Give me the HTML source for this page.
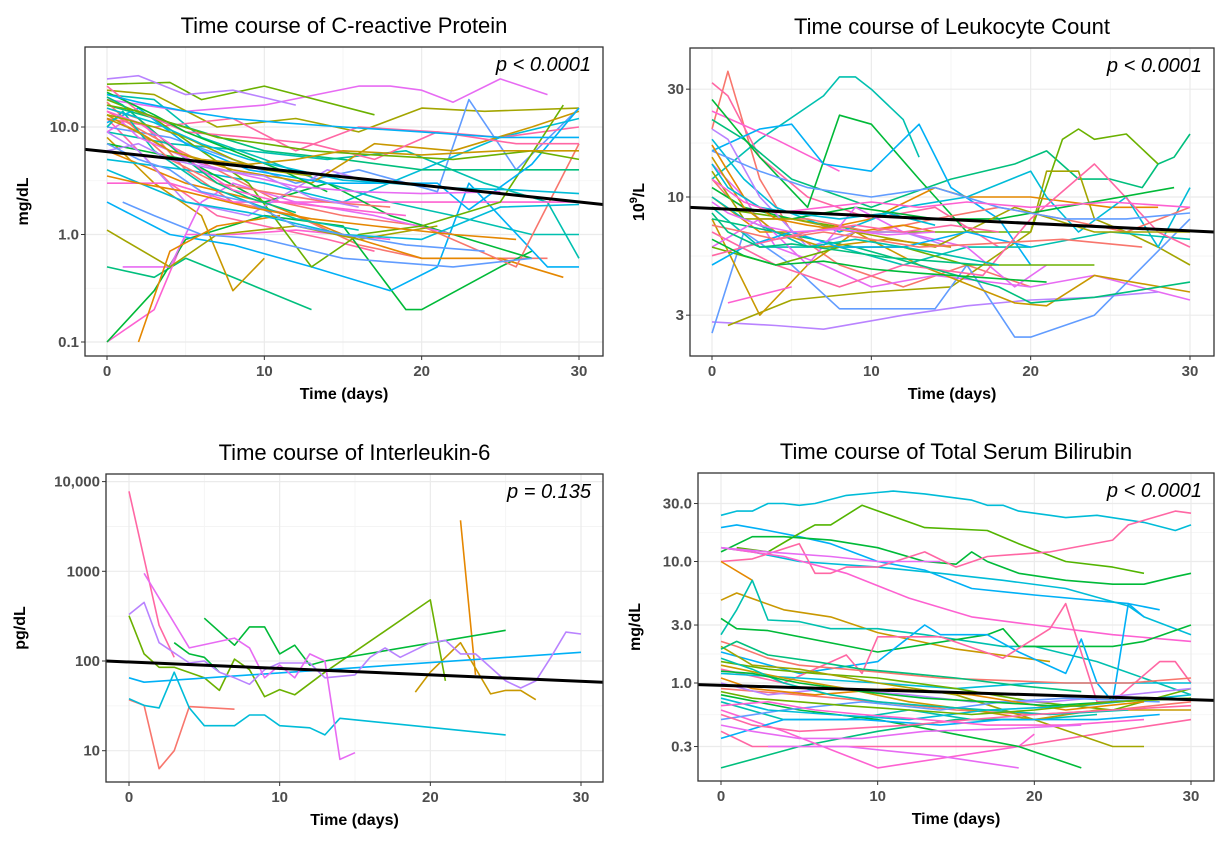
<!DOCTYPE html>
<html><head><meta charset="utf-8"><style>
html,body{margin:0;padding:0;background:#fff;}
svg{display:block;font-family:"Liberation Sans",Arial,sans-serif;}
</style></head><body>
<svg id="chart" width="1221" height="846" viewBox="0 0 1221 846" xmlns="http://www.w3.org/2000/svg"></svg>
<script>
const palette = ["#F8766D","#E58700","#C99800","#A3A500","#6BB100","#00BA38","#00BF7D","#00C0AF","#00BCD8","#00B0F6","#619CFF","#B983FF","#E76BF3","#FD61D1","#FF67A4"];

const xTicks = [0,10,20,30];
const xMinor = [5,15,25];

const crpTicks = [0.1,1,10];
const crpTickLabels = ["0.1","1.0","10.0"];
const crpTrend = [6.2,1.9];
const crpSeries = [
[[0,15],[2,12],[5,4],[8,2],[12,1.5],[16,0.8],[20,0.6],[25,0.6],[28,0.6]],
[[0,20],[3,18],[6,8],[10,5],[14,3],[18,2],[22,1.5],[27,1],[30,1]],
[[0,12],[2,6],[4,3],[7,1.5],[10,1.2],[14,0.9],[17,0.7]],
[[0,0.5],[3,0.4],[5,0.6],[8,0.4],[13,0.2]],
[[0,0.1],[3,0.2],[5,1],[8,1],[12,1.1],[18,0.9]],
[[0,0.1],[3,0.3],[5,0.9],[10,1.5],[15,1.2],[19,0.2],[20,0.2],[25,0.5],[27,0.7]],
[[0,18],[5,14],[10,16],[16,24],[18,24],[20,22],[22,17],[25,28],[28,20]],
[[0,25],[4,26],[6,18],[10,24],[17,13]],
[[0,28],[2,30],[5,20],[8,22],[12,16]],
[[0,22],[3,20],[7,10],[12,12],[16,9],[20,15],[24,14],[30,15]],
[[0,10],[4,8],[8,5],[12,3],[16,4],[21,2.5],[23,18],[26,4],[30,15]],
[[0,8],[3,3],[6,1.5],[8,0.3],[10,0.6]],
[[0,2],[4,1],[8,0.8],[13,0.5],[18,0.3],[21,0.5],[23,3],[28,0.5],[30,0.5]],
[[0,6],[5,3],[10,2],[15,1],[20,0.6],[25,0.6],[29,0.4]],
[[0,5],[5,4],[10,3],[15,2],[20,4],[25,8],[30,12]],
[[0,14],[3,8],[7,4],[11,2],[15,1.5],[20,1.2],[26,0.5],[30,7]],
[[0,9],[4,7],[9,6],[14,5],[19,6],[24,3],[28,2],[30,0.6]],
[[0,12],[3,10],[8,12],[12,6],[16,10],[21,9],[25,8],[30,10]],
[[0,16],[5,10],[10,6],[15,5],[20,4],[25,4],[30,4]],
[[0,3],[4,3],[8,2],[14,2],[20,2],[26,2],[30,2]],
[[0,7],[5,5],[10,2],[14,3],[18,1.5],[22,1],[27,0.6]],
[[1,0.5],[4,0.5],[6,2],[8,3],[12,2],[17,1.5],[22,1]],
[[0,18],[3,12],[6,6],[9,3],[13,0.5],[16,1],[20,1.2],[25,2],[29,16]],
[[0,9],[2,6],[5,2],[9,1.5],[14,4],[17,3]],
[[0,1.1],[4,0.5],[7,1],[12,1.2],[16,0.9],[21,1.2]],
[[1,2],[3,1.5],[6,1],[10,0.9],[15,0.6],[22,0.5],[27,0.6]],
[[0,13],[4,6],[8,4],[13,3],[17,7],[22,6],[27,10],[30,14]],
[[0,11],[2,15],[5,7],[9,4],[14,3],[21,3],[23,1.7],[27,4.5],[30,15]],
[[2,0.1],[4,0.7],[7,1.2],[11,1.5]],
[[0,4],[5,2],[9,1.6],[15,1],[20,0.9],[25,1.8],[30,1.9]],
[[0,17],[2,9],[4,5],[7,3],[10,2.5],[14,2],[18,1.8]],
[[0,10],[1,14],[3,6],[6,3],[9,2],[12,1.4],[16,1.1]],
[[0,24],[2,14],[5,9],[9,8],[13,7],[17,5],[21,9],[26,7],[30,7]],
[[0,19],[1,16],[3,9],[5,5],[7,3],[9,2.2],[12,1.6]],
[[0,14],[2,11],[4,7],[6,4],[8,2.6],[11,2],[14,1.8],[19,1.5]],
[[0,21],[1,18],[3,13],[5,9],[8,6],[11,4],[14,2.5]],
[[0,9],[1,11],[2,8],[4,6],[6,4.5],[9,3.5],[12,2.8],[16,2.5],[20,2.4],[25,2.5]],
[[0,16],[2,14],[4,11],[7,8],[10,7],[13,6],[17,5.5],[22,5],[27,6],[30,5]],
[[0,6],[2,7],[4,5],[7,4],[10,3.5],[13,2.2],[16,1.8]],
[[0,13],[1,12],[3,10],[5,8],[8,5],[10,4],[13,3.5]],
[[0,7],[2,5],[4,4],[6,2.5],[9,2],[12,1.2],[15,1],[19,0.8],[24,0.7]],
[[0,12],[2,9],[4,6],[6,5],[9,4.5],[12,5],[15,6],[20,5.5],[25,6],[30,6]],
[[0,20],[2,17],[5,14],[8,12],[11,11],[15,10],[20,9],[25,8],[30,8]],
[[0,3.5],[2,3],[5,2.5],[9,1.8],[13,1.4],[17,1.2],[22,1],[26,0.9]],
[[0,15],[3,11],[6,7],[9,5],[12,4],[15,3.2],[18,3],[22,2.7],[26,2.6],[30,2.4]]
];

const wbcTicks = [3,10,30];
const wbcTickLabels = ["3","10","30"];
const wbcTrend = [9.0,7.0];
const wbcSeries = [
[[0,20],[1,36],[3,12],[5,7],[8,5],[12,4],[16,5],[20,4]],
[[0,12],[3,18],[7,28],[8,34],[9,34],[10,30],[12,22],[13,15]],
[[0,32],[1,28],[3,15],[6,10],[10,8],[14,9],[18,6]],
[[0,22],[2,18],[5,12],[10,9],[15,12],[19,14],[21,16],[23,12],[25,12],[27,11],[28,14],[29,15],[30,19]],
[[0,24],[4,18],[8,13]],
[[0,27],[3,15],[6,9],[8,23],[10,21],[13,12],[16,7]],
[[0,14],[2,10],[4,6],[7,5],[10,4],[14,4.5],[20,4],[24,4.5],[30,3.5]],
[[0,9],[5,8],[10,7],[15,7],[20,7],[22,18],[23,20],[24,18],[26,19],[28,14]],
[[0,2.8],[4,2.7],[7,2.6],[12,3],[16,3.3],[20,3.5],[24,3.6],[28,3.8]],
[[1,2.7],[5,3.5],[10,3.8],[15,4],[20,7],[21,13],[23,13],[24,8],[26,7],[28,6],[30,5]],
[[0,2.5],[2,7],[5,5],[8,3.2],[14,3.2],[16,5],[19,2.4],[20,2.4],[24,3],[30,8]],
[[0,8],[3,3],[6,5],[9,7],[13,5],[19,3.4],[21,3.3],[24,4.5],[30,3.8]],
[[0,16],[3,20],[5,21],[7,14],[10,13],[13,21],[15,11],[18,8],[20,5]],
[[0,10],[3,7],[6,7],[10,8],[14,11],[16,10],[20,10],[25,9],[28,9]],
[[0,18],[2,12],[4,9],[8,7],[12,9],[16,10],[20,13],[21,10],[23,7],[26,10],[28,6],[30,11]],
[[0,12],[1,10],[3,8],[6,8],[10,7],[14,8],[18,9],[22,8],[26,7],[30,9]],
[[0,9],[3,6],[8,6],[12,5],[16,6],[20,6],[25,7],[30,6.5]],
[[0,7],[4,5],[8,4],[12,5],[17,4.5],[20,8],[24,14],[28,7],[30,6]],
[[0,8],[4,7],[9,6],[13,5],[18,4],[20,3.4],[24,3.6],[30,4.2]],
[[1,3.4],[5,4]],
[[0,11],[2,9],[5,8],[9,9],[14,8],[18,8],[22,9],[29,11]],
[[0,6],[3,8],[6,5],[9,9],[12,7],[16,6],[19,4],[21,5]],
[[0,6],[4,5],[8,6],[12,6],[16,5],[20,5],[24,5]],
[[0,20],[1,18],[3,10],[6,6],[9,7],[12,7],[15,6]],
[[0,13],[2,8],[5,8],[9,7],[14,6],[19,9],[24,7],[30,7]],
[[0,16],[3,13],[6,11],[10,10],[14,11],[18,9],[22,8],[26,8],[30,8.5]],
[[0,15],[2,9],[4,7],[7,6],[11,6.5],[15,6]],
[[0,5],[2,6],[5,7],[8,6],[12,6],[16,7],[20,6]],
[[0,17],[1,13],[2,10],[4,8],[6,7.5],[9,7],[12,7.5],[14,7]],
[[0,14],[1,11],[3,9],[5,8.5],[8,8],[11,8.5],[14,7.5]],
[[0,7.5],[2,7],[4,6.5],[7,7],[10,6.5],[13,6],[17,6.2],[22,6.5],[27,6]],
[[0,10],[2,8],[4,7],[6,6],[9,6.5],[12,6],[15,5.5],[18,5]],
[[0,5.5],[2,6],[4,6.5],[6,7],[9,7.5],[12,7],[15,7.5],[18,7]],
[[0,8.5],[1,7],[3,6],[5,6.2],[8,5.8],[11,5.4],[14,5.2],[17,5]],
[[0,12],[2,9.5],[4,8.5],[7,9],[10,9.5],[13,9],[16,9.5],[20,9],[25,9.5],[30,9]],
[[0,6.5],[2,5.5],[4,5],[7,5.2],[10,4.8],[13,4.6],[17,4.4],[21,4.2]],
[[0,9.5],[1,8.5],[3,7.5],[5,7],[8,7.2],[11,6.8],[14,7]]
];

const il6Ticks = [10,100,1000,10000];
const il6TickLabels = ["10","100","1000","10,000"];
const il6Trend = [100,58];
const il6Series = [
[[0,7800],[2,250],[3,110]],
[[0,37],[1,32],[2,6.3],[3,10],[4,31],[7,29]],
[[22,3700],[23,70]],
[[19,45],[20,75],[22,160],[24,43],[25,47],[26,47],[27,37]],
[[0,320],[1,120],[2,85],[3,85],[5,65],[6,47],[7,105],[8,80],[9,40],[10,48],[11,42],[13,75],[20,480],[21,60]],
[[3,160],[4,120],[5,110],[6,75]],
[[5,300],[7,150],[8,240],[9,240],[10,120],[11,150],[12,90],[13,100],[25,220]],
[[0,38],[1,32],[2,30],[3,75],[4,30],[5,19],[7,19],[8,25],[9,25],[10,19],[12,18],[13,15],[14,23],[25,15]],
[[0,65],[1,58],[30,125]],
[[0,330],[1,450],[2,160],[4,95],[5,100],[6,75],[7,65],[8,55],[9,80],[10,95],[12,95],[13,65],[15,70],[16,110],[17,140],[18,110],[20,160],[21,170],[22,120],[23,120],[25,60],[26,50],[27,60],[28,110],[29,210],[30,200]],
[[1,950],[4,140],[7,180],[8,140],[9,65],[10,90],[11,65],[12,120],[13,100],[14,8],[15,9.5]]
];
const il6Colors = ["#FF67A4","#F8766D","#E58700","#C99800","#6BB100","#00BA38","#00BA38","#00BCD8","#00B0F6","#B983FF","#E76BF3"];

const biliTicks = [0.3,1,3,10,30];
const biliTickLabels = ["0.3","1.0","3.0","10.0","30.0"];
const biliTrend = [0.97,0.72];
const biliSeries = [
[[0,24],[1,26],[2,26],[3,30],[4,30],[5,29],[6,30],[8,35],[10,37],[11,38],[13,36],[16,32],[17,29],[18,29],[19,26],[21,24],[22,23],[24,24],[27,21],[29,18],[30,20]],
[[0,19],[1,20],[3,18],[5,16],[7,14],[10,10],[13,8.5],[16,6],[20,5.3],[26,4.5],[28,4]],
[[0,13],[2,12],[5,10],[10,9],[14,8],[18,7],[22,6],[26,4.3],[27,3.5],[30,2.5]],
[[1,13],[3,12],[5,17],[6,20],[7,20],[9,29],[13,19],[17,18],[19,14],[22,10],[25,9],[27,8]],
[[0,12],[2,16],[4,16],[7,15],[10,13],[13,10],[15,9.5],[16,12],[17,10],[19,8],[22,7],[25,6.5],[27,6.5],[29,7.5],[30,8]],
[[0,10],[2,10.5],[5,14],[6,8],[7,8],[8,9],[10,9],[13,12],[15,9],[17,11],[21,12],[25,15],[26,20],[29,26],[30,25]],
[[0,13],[4,11],[8,8],[12,5],[16,3.5],[20,3],[25,2.5],[30,2.2]],
[[0,13],[3,12],[7,11],[10,10],[14,10]],
[[0,10],[2,7]],
[[0,4.8],[1,5.5],[4,4],[7,3.5],[10,2.6],[15,1.9],[21,1.5]],
[[0,2.5],[1,4],[2,7],[3,3.3],[5,3.2],[7,2.8],[10,2.8],[13,2.5],[18,2],[20,2],[24,1.5],[30,0.8]],
[[0,3.4],[1,2.8],[3,2.7],[10,1.8],[17,2.5],[18,2.8],[19,2],[25,2],[27,2.2],[30,3]],
[[0,1.8],[5,1.2],[10,1.5],[13,3],[14,2.5],[17,2.5],[19,1.8],[22,1.2],[23,2.3],[24,1],[25,0.7],[26,4.5],[27,3.5]],
[[0,1.3],[4,1],[8,1.7],[9,1.2],[10,2.4],[14,2.4],[18,1.6],[21,2.8],[22,4.5],[24,0.7],[25,0.7],[28,1.5],[29,1.5],[30,1]],
[[0,1.2],[5,1.1],[10,1],[15,0.9],[20,1],[25,1],[30,1]],
[[0,0.9],[5,0.8],[10,0.7],[15,0.6],[20,0.55],[25,0.6],[30,0.7]],
[[0,0.7],[4,0.5],[8,0.5],[12,0.6],[16,0.5],[20,0.5],[24,0.55]],
[[0,0.4],[2,0.3],[6,0.3],[10,0.3],[14,0.3],[19,0.3],[25,0.4],[30,0.5]],
[[0,0.2],[5,0.3],[10,0.4],[15,0.5],[20,0.5]],
[[0,0.6],[4,0.4],[10,0.2],[19,0.3],[20,0.38]],
[[0,0.8],[5,0.6],[10,0.5],[14,0.4],[19,0.3],[23,0.2]],
[[3,0.3],[8,0.3],[14,0.25],[19,0.2]],
[[0,1.5],[3,1.3],[6,1.2],[10,1.1],[15,0.9],[20,0.7],[25,0.6],[30,0.9]],
[[0,1],[3,0.8],[7,0.9],[12,0.8],[16,0.7],[21,0.7],[26,0.8],[30,0.9]],
[[0,2],[2,1.4],[5,1.3],[10,1],[15,0.8],[20,0.5],[25,0.3],[27,0.3]],
[[0,0.5],[4,0.6],[9,0.7],[14,0.6],[18,0.7],[22,0.75],[28,0.7]],
[[0,1.4],[4,1.1],[8,0.9],[12,0.7],[16,0.6],[20,0.5],[24,0.6],[30,0.6]],
[[0,0.35],[4,0.5],[9,0.5],[14,0.45],[18,0.5],[24,0.5],[28,0.55]],
[[0,1.1],[2,0.9],[6,0.8],[11,0.9],[16,0.8],[22,0.6],[27,0.7]],
[[0,0.75],[3,0.6],[7,0.55],[12,0.5],[17,0.6],[23,0.65],[30,0.8]],
[[0,2.2],[1,2],[3,1.6],[5,1.4],[8,1.3],[11,1.2],[14,1.1],[18,1.05],[22,1],[26,1],[30,1.1]],
[[0,1.6],[2,1.3],[4,1],[7,0.8],[10,0.7],[13,0.65],[17,0.6],[21,0.55],[26,0.6]],
[[0,0.55],[2,0.45],[5,0.4],[8,0.42],[12,0.45],[16,0.5],[20,0.55],[25,0.6],[30,0.65]],
[[0,1.9],[1,2.2],[3,1.7],[6,1.5],[9,1.3],[12,1.2],[15,1.1],[19,0.95],[23,0.85]],
[[0,0.65],[3,0.7],[6,0.6],[9,0.55],[13,0.5],[17,0.45],[22,0.45],[27,0.5]],
[[0,1.25],[2,1.2],[5,1],[9,0.85],[13,0.75],[17,0.7],[21,0.65],[25,0.7],[30,0.75]],
[[0,0.45],[2,0.4],[5,0.35],[9,0.35],[13,0.4],[18,0.42],[23,0.45]],
[[0,0.85],[2,0.75],[5,0.7],[8,0.65],[12,0.6],[16,0.55],[20,0.6],[25,0.7],[30,0.75]]
];
const biliColors = ["#00BCD8","#00B0F6","#00BCD8","#53B400","#00BA38","#FF67A4","#FD61D1","#E76BF3","#E58700","#C99800","#00C0AF","#00BA38","#00B0F6","#FF67A4"];

const NS = "http://www.w3.org/2000/svg";
const svg = document.getElementById("chart");
function mk(tag, attrs, parent){
  const e = document.createElementNS(NS, tag);
  for (const k in attrs) e.setAttribute(k, attrs[k]);
  (parent||svg).appendChild(e);
  return e;
}

function drawPanel(cfg){
  const g = mk("g", {});
  
  
  const xs = d => cfg.x0 + (cfg.x30 - cfg.x0) * d / 30;
  const ys = v => cfg.yRefPx - cfg.decade * (Math.log10(v) - Math.log10(cfg.yRef));
  const L = cfg.left, R = cfg.right, T = cfg.top, B = cfg.bottom;
  const bg = mk("rect", {x:L, y:T, width:R-L, height:B-T, fill:"#fff"}, g);
  
  
  const clipId = "clip-" + cfg.name;
  const cp = mk("clipPath", {id: clipId}, g);
  mk("rect", {x:L, y:T, width:R-L, height:B-T}, cp);
  xMinor.forEach(d => {
    const l = mk("line", {x1:xs(d), x2:xs(d), y1:T, y2:B, stroke:"#F3F3F3", "stroke-width":0.8}, g);
    
    
  });
  for (let i = 0; i < cfg.ticks.length - 1; i++) {
    const m = Math.sqrt(cfg.ticks[i] * cfg.ticks[i+1]);
    const l = mk("line", {x1:L, x2:R, y1:ys(m), y2:ys(m), stroke:"#F3F3F3", "stroke-width":0.8}, g);
    
    
  }
  xTicks.forEach(d => {
    const l = mk("line", {x1:xs(d), x2:xs(d), y1:T, y2:B, stroke:"#EBEBEB", "stroke-width":1.2}, g);
    
    
    const tk = mk("line", {x1:xs(d), x2:xs(d), y1:B, y2:B+4, stroke:"#333", "stroke-width":1}, g);
    
    
    const t = mk("text", {x:xs(d), y:B+20, "text-anchor":"middle", "font-size":15, "font-weight":"bold", fill:"#4D4D4D"}, g);
    t.textContent = String(d);
    
    
  });
  cfg.ticks.forEach((v, i) => {
    const l = mk("line", {x1:L, x2:R, y1:ys(v), y2:ys(v), stroke:"#EBEBEB", "stroke-width":1.2}, g);
    
    
    const tk = mk("line", {x1:L-4, x2:L, y1:ys(v), y2:ys(v), stroke:"#333", "stroke-width":1}, g);
    
    
    const t = mk("text", {x:L-6, y:ys(v)+5, "text-anchor":"end", "font-size":15, "font-weight":"bold", fill:"#4D4D4D"}, g);
    t.textContent = cfg.tickLabels[i];
    
    
  });
  const sg = mk("g", {"clip-path":"url(#"+clipId+")"}, g);
  cfg.series.forEach((s, i) => {
    const pts = s.map(p => xs(p[0]).toFixed(1) + "," + ys(p[1]).toFixed(1)).join(" ");
    const col = (cfg.colors && i < cfg.colors.length) ? cfg.colors[i] : palette[(i * 7) % palette.length];
    const pl = mk("polyline", {points:pts, fill:"none", stroke:col, "stroke-width":1.6, "stroke-linejoin":"round"}, sg);
    
    
  });
  const tr = mk("line", {x1:L, y1:ys(cfg.trend[0]), x2:R, y2:ys(cfg.trend[1]), stroke:"#000", "stroke-width":3}, sg);
  
  
  const bd = mk("rect", {x:L, y:T, width:R-L, height:B-T, fill:"none", stroke:"#333", "stroke-width":1.3}, g);
  
  
  const tt = mk("text", {x:(L+R)/2, y:T-14, "text-anchor":"middle", "font-size":22, fill:"#000"}, g);
  tt.textContent = cfg.title;
  
  
  const xl = mk("text", {x:(L+R)/2, y:B+43, "text-anchor":"middle", "font-size":16, "font-weight":"bold", fill:"#000"}, g);
  xl.textContent = "Time (days)";
  
  
  const yl = mk("text", {x:0, y:0, "text-anchor":"middle", "font-size":16, "font-weight":"bold", fill:"#000", transform:"translate("+cfg.ylabX+","+((T+B)/2)+") rotate(-90)"}, g);
  if (cfg.sup) {
    yl.appendChild(document.createTextNode("10"));
    const ts = mk("tspan", {dy:-7, "font-size":11}, yl);
    ts.textContent = "9";
    const ts2 = mk("tspan", {dy:7}, yl);
    ts2.textContent = "/L";
  } else yl.textContent = cfg.ylab;
  
  
  const pv = mk("text", {x:R-12, y:T+24, "text-anchor":"end", "font-size":20, "font-style":"italic", fill:"#000"}, g);
  pv.textContent = cfg.p;
  
  
}

drawPanel({name:"crp-panel", title:"Time course of C-reactive Protein", left:85, right:603, top:47, bottom:356,
  x0:107, x30:579, yRef:10, yRefPx:127, decade:107.5, ticks:crpTicks, tickLabels:crpTickLabels,
  series:crpSeries, trend:crpTrend, ylab:"mg/dL", ylabX:28, p:"p < 0.0001"});
drawPanel({name:"leukocyte-panel", title:"Time course of Leukocyte Count", left:690, right:1214, top:48, bottom:356,
  x0:712, x30:1190, yRef:10, yRefPx:197, decade:226, ticks:wbcTicks, tickLabels:wbcTickLabels,
  series:wbcSeries, trend:wbcTrend, sup:true, ylabX:644, p:"p < 0.0001"});
drawPanel({name:"il6-panel", title:"Time course of Interleukin-6", left:106, right:603, top:474, bottom:782,
  x0:129, x30:581, yRef:100, yRefPx:661, decade:89.7, ticks:il6Ticks, tickLabels:il6TickLabels,
  series:il6Series, colors:il6Colors, trend:il6Trend, ylab:"pg/dL", ylabX:25, p:"p = 0.135"});
drawPanel({name:"bilirubin-panel", title:"Time course of Total Serum Bilirubin", left:698, right:1214, top:473, bottom:781,
  x0:721, x30:1191, yRef:1, yRefPx:683, decade:121.5, ticks:biliTicks, tickLabels:biliTickLabels,
  series:biliSeries, colors:biliColors, trend:biliTrend, ylab:"mg/dL", ylabX:640, p:"p < 0.0001"});
</script>
</body></html>
